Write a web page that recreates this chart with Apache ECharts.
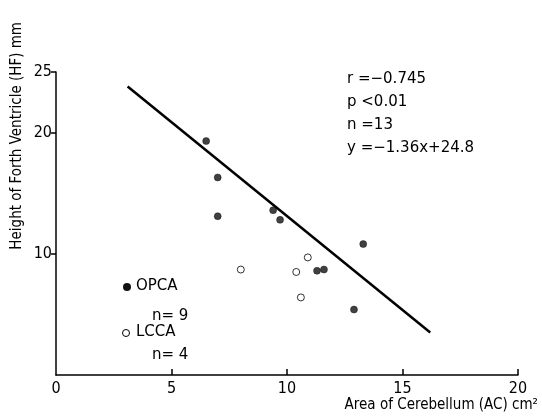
<!DOCTYPE html>
<html>
<head>
<meta charset="utf-8">
<script src="https://cdn.jsdelivr.net/npm/echarts@6/dist/echarts.min.js"></script>
<style>
  html, body { margin: 0; padding: 0; background: #fff; }
  #main { width: 542px; height: 418px; }
</style>
</head>
<body>
<div id="main"></div>
<script>
// OPCA (filled) and LCCA (open) cases
const opcaX = [6.5, 7.0, 7.0, 9.4, 9.7, 13.3, 11.3, 11.6, 12.9];
const opcaY = [19.3, 16.3, 13.1, 13.6, 12.8, 10.8, 8.6, 8.7, 5.4];
const lccaX = [8.0, 10.4, 10.9, 10.6];
const lccaY = [8.7, 8.5, 9.7, 6.4];
// regression line ends
const fitX = [3.1, 16.2];
const fitY = [23.8, 3.5];

const xTicks = [0, 5, 10, 15, 20];
const yTicks = [10, 20, 25];
const statLines = ['r =\u22120.745', 'p <0.01', 'n =13', 'y =\u22121.36x+24.8'];

const narrow = "'Liberation Sans Narrow', 'DejaVu Sans Condensed', sans-serif";
const wide = "'DejaVu Sans', sans-serif";

const zip = (xs, ys) => xs.map((x, i) => [x, ys[i]]);

const chart = echarts.init(document.getElementById('main'));

chart.setOption({
  backgroundColor: '#fff',
  animation: false,
  grid: { left: 56, right: 24, top: 72, bottom: 43 },
  xAxis: {
    type: 'value',
    min: 0, max: 20, interval: 5,
    splitLine: { show: false },
    axisLine: { lineStyle: { color: '#000', width: 1.5 } },
    axisTick: { inside: true, length: 6, lineStyle: { color: '#000', width: 1.5 }, customValues: [5, 10, 15, 20] },
    axisLabel: { color: '#000', fontFamily: narrow, fontSize: 16, margin: 6, customValues: xTicks }
  },
  yAxis: {
    type: 'value',
    min: 0, max: 25,
    splitLine: { show: false },
    axisLine: { show: true, lineStyle: { color: '#000', width: 1.5 } },
    axisTick: { show: true, length: 5, lineStyle: { color: '#000', width: 1.5 }, customValues: yTicks },
    axisLabel: { color: '#000', fontFamily: narrow, fontSize: 16, margin: 4, customValues: yTicks }
  },
  series: [
    {
      name: 'fit',
      type: 'line',
      data: zip(fitX, fitY),
      symbol: 'none',
      lineStyle: { color: '#000', width: 2.5 },
      z: 1
    },
    {
      name: 'OPCA',
      type: 'scatter',
      data: zip(opcaX, opcaY),
      symbolSize: 7,
      itemStyle: { color: '#111', borderColor: '#000', borderWidth: 0.5 },
      z: 3
    },
    {
      name: 'LCCA',
      type: 'scatter',
      data: zip(lccaX, lccaY),
      symbolSize: 7,
      itemStyle: { color: '#fff', borderColor: '#000', borderWidth: 1 },
      z: 3
    }
  ],
  graphic: [
    // y axis title
    {
      type: 'text',
      left: 10, top: 22,
      rotation: Math.PI / 2,
      style: { text: 'Height of Forth Ventricle (HF) mm', font: '15px ' + narrow, fill: '#000' }
    },
    // x axis title
    {
      type: 'text',
      right: 4, top: 398,
      style: { text: 'Area of Cerebellum (AC) cm\u00b2', font: '15px ' + narrow, fill: '#000' }
    },
    // stats block
    ...statLines.map((t, i) => ({
      type: 'text',
      left: 347, top: 72 + i * 23,
      style: { text: t, font: '15px ' + wide, fill: '#000' }
    })),
    // legend
    { type: 'circle', shape: { cx: 127, cy: 287, r: 4 }, style: { fill: '#111' } },
    { type: 'text', left: 136, top: 279, style: { text: 'OPCA', font: '15px ' + wide, fill: '#000' } },
    { type: 'text', left: 152, top: 309, style: { text: 'n= 9', font: '15px ' + wide, fill: '#000' } },
    { type: 'circle', shape: { cx: 126, cy: 333, r: 3.5 }, style: { fill: '#fff', stroke: '#000', lineWidth: 1 } },
    { type: 'text', left: 136, top: 325, style: { text: 'LCCA', font: '15px ' + wide, fill: '#000' } },
    { type: 'text', left: 152, top: 348, style: { text: 'n= 4', font: '15px ' + wide, fill: '#000' } }
  ]
});
</script>
</body>
</html>
